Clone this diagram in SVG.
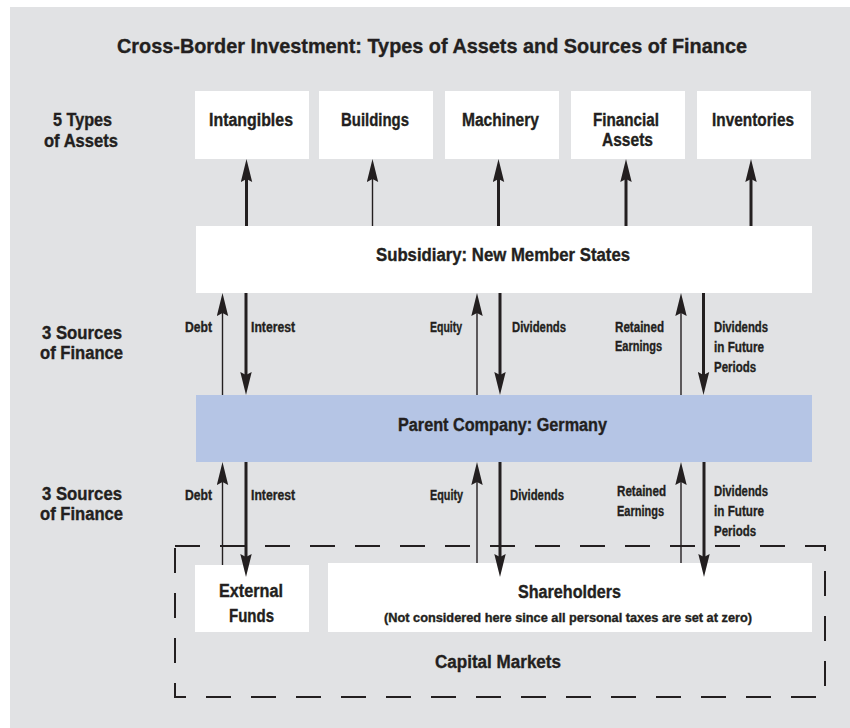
<svg xmlns="http://www.w3.org/2000/svg" width="850" height="728" viewBox="0 0 850 728">
<defs>
<style>
text{font-family:"Liberation Sans",Arial,sans-serif;font-weight:bold;fill:#231f20;stroke:#231f20;stroke-width:0.35}
.t{font-size:21px}
.m{font-size:17.5px}
.s{font-size:14.5px}
.xs{font-size:12.5px}
.box{fill:#ffffff}
.parent{fill:#b5c5e5}
.thick{stroke:#231f20;stroke-width:3;fill:none}
.thin{stroke:#231f20;stroke-width:1.4;fill:none}
.dash{stroke:#231f20;stroke-width:2;fill:none;stroke-dasharray:25 20}
</style>
<marker id="ah" markerUnits="userSpaceOnUse" viewBox="0 0 23 12" markerWidth="23" markerHeight="12" refX="13" refY="6" orient="auto">
<path d="M0,0.3 L23,6 L0,11.7 L3,6 Z" fill="#231f20"/>
</marker>
</defs>
<rect x="0" y="0" width="850" height="728" fill="#ffffff"/>
<rect x="10" y="7" width="840" height="721" fill="#e1e2e4"/>
<text class="t" x="117" y="53" textLength="630" lengthAdjust="spacingAndGlyphs">Cross-Border Investment: Types of Assets and Sources of Finance</text>

<g id="row-labels">
<text class="m" x="53" y="126" textLength="59" lengthAdjust="spacingAndGlyphs">5 Types</text>
<text class="m" x="44" y="147" textLength="74" lengthAdjust="spacingAndGlyphs">of Assets</text>
<text class="m" x="42" y="339" textLength="80" lengthAdjust="spacingAndGlyphs">3 Sources</text>
<text class="m" x="40" y="359" textLength="83" lengthAdjust="spacingAndGlyphs">of Finance</text>
<text class="m" x="42" y="500" textLength="80" lengthAdjust="spacingAndGlyphs">3 Sources</text>
<text class="m" x="40" y="520" textLength="83" lengthAdjust="spacingAndGlyphs">of Finance</text>
</g>

<g id="intangibles"><rect class="box" x="195" y="91" width="114" height="68"/><text class="m" x="209" y="126" textLength="84" lengthAdjust="spacingAndGlyphs">Intangibles</text></g>
<g id="buildings"><rect class="box" x="319" y="91" width="114" height="68"/><text class="m" x="341" y="126" textLength="68" lengthAdjust="spacingAndGlyphs">Buildings</text></g>
<g id="machinery"><rect class="box" x="445" y="91" width="114" height="68"/><text class="m" x="462" y="126" textLength="77" lengthAdjust="spacingAndGlyphs">Machinery</text></g>
<g id="financial-assets"><rect class="box" x="571" y="91" width="114" height="68"/><text class="m" x="593" y="126" textLength="66" lengthAdjust="spacingAndGlyphs">Financial</text><text class="m" x="602" y="146" textLength="51" lengthAdjust="spacingAndGlyphs">Assets</text></g>
<g id="inventories"><rect class="box" x="697" y="91" width="114" height="68"/><text class="m" x="712" y="126" textLength="82" lengthAdjust="spacingAndGlyphs">Inventories</text></g>

<g id="subsidiary"><rect class="box" x="196" y="226" width="616" height="67"/><text class="m" x="376" y="261" textLength="254" lengthAdjust="spacingAndGlyphs">Subsidiary: New Member States</text></g>
<g id="parent"><rect class="parent" x="196" y="395" width="616" height="67"/><text class="m" x="398" y="431" textLength="209" lengthAdjust="spacingAndGlyphs">Parent Company: Germany</text></g>

<g id="capital-markets"><rect class="dash" x="175" y="546" width="650" height="151"/><text class="m" x="435" y="668" textLength="126" lengthAdjust="spacingAndGlyphs">Capital Markets</text></g>
<g id="external-funds"><rect class="box" x="195" y="565" width="114" height="67"/><text class="m" x="219" y="597" textLength="64" lengthAdjust="spacingAndGlyphs">External</text><text class="m" x="229" y="622" textLength="45" lengthAdjust="spacingAndGlyphs">Funds</text></g>
<g id="shareholders"><rect class="box" x="328" y="563" width="484" height="69"/><text class="m" x="518" y="598" textLength="103" lengthAdjust="spacingAndGlyphs">Shareholders</text><text class="xs" x="384" y="622" textLength="368" lengthAdjust="spacingAndGlyphs">(Not considered here since all personal taxes are set at zero)</text></g>

<g id="connectors">
<line class="thick" x1="246.5" y1="226" x2="246.5" y2="169" marker-end="url(#ah)"/>
<line class="thin" x1="372.5" y1="226" x2="372.5" y2="169" marker-end="url(#ah)"/>
<line class="thick" x1="498.5" y1="226" x2="498.5" y2="169" marker-end="url(#ah)"/>
<line class="thick" x1="626" y1="226" x2="626" y2="169" marker-end="url(#ah)"/>
<line class="thick" x1="751" y1="226" x2="751" y2="169" marker-end="url(#ah)"/>

<line class="thin" x1="222.5" y1="395" x2="222.5" y2="303" marker-end="url(#ah)"/>
<line class="thick" x1="246" y1="293" x2="246" y2="385" marker-end="url(#ah)"/>
<line class="thin" x1="477" y1="395" x2="477" y2="303" marker-end="url(#ah)"/>
<line class="thick" x1="500" y1="293" x2="500" y2="385" marker-end="url(#ah)"/>
<line class="thin" x1="681" y1="395" x2="681" y2="303" marker-end="url(#ah)"/>
<line class="thick" x1="703.5" y1="293" x2="703.5" y2="385" marker-end="url(#ah)"/>

<line class="thin" x1="222.5" y1="565" x2="222.5" y2="472" marker-end="url(#ah)"/>
<line class="thick" x1="246" y1="462" x2="246" y2="567" marker-end="url(#ah)"/>
<line class="thin" x1="477" y1="563" x2="477" y2="472" marker-end="url(#ah)"/>
<line class="thick" x1="500" y1="462" x2="500" y2="567" marker-end="url(#ah)"/>
<line class="thin" x1="681" y1="563" x2="681" y2="472" marker-end="url(#ah)"/>
<line class="thick" x1="704" y1="462" x2="704" y2="567" marker-end="url(#ah)"/>

<text class="s" x="185" y="332" textLength="27" lengthAdjust="spacingAndGlyphs">Debt</text>
<text class="s" x="251" y="332" textLength="44" lengthAdjust="spacingAndGlyphs">Interest</text>
<text class="s" x="430" y="332" textLength="32" lengthAdjust="spacingAndGlyphs">Equity</text>
<text class="s" x="512" y="332" textLength="54" lengthAdjust="spacingAndGlyphs">Dividends</text>
<text class="s" x="615" y="332" textLength="49" lengthAdjust="spacingAndGlyphs">Retained</text>
<text class="s" x="615" y="351" textLength="47" lengthAdjust="spacingAndGlyphs">Earnings</text>
<text class="s" x="714" y="332" textLength="54" lengthAdjust="spacingAndGlyphs">Dividends</text>
<text class="s" x="714" y="352" textLength="50" lengthAdjust="spacingAndGlyphs">in Future</text>
<text class="s" x="714" y="372" textLength="42" lengthAdjust="spacingAndGlyphs">Periods</text>

<text class="s" x="185" y="500" textLength="27" lengthAdjust="spacingAndGlyphs">Debt</text>
<text class="s" x="251" y="500" textLength="44" lengthAdjust="spacingAndGlyphs">Interest</text>
<text class="s" x="430" y="500" textLength="33" lengthAdjust="spacingAndGlyphs">Equity</text>
<text class="s" x="510" y="500" textLength="54" lengthAdjust="spacingAndGlyphs">Dividends</text>
<text class="s" x="617" y="496" textLength="49" lengthAdjust="spacingAndGlyphs">Retained</text>
<text class="s" x="617" y="516" textLength="47" lengthAdjust="spacingAndGlyphs">Earnings</text>
<text class="s" x="714" y="496" textLength="54" lengthAdjust="spacingAndGlyphs">Dividends</text>
<text class="s" x="714" y="516" textLength="50" lengthAdjust="spacingAndGlyphs">in Future</text>
<text class="s" x="714" y="536" textLength="42" lengthAdjust="spacingAndGlyphs">Periods</text>
</g>
</svg>
